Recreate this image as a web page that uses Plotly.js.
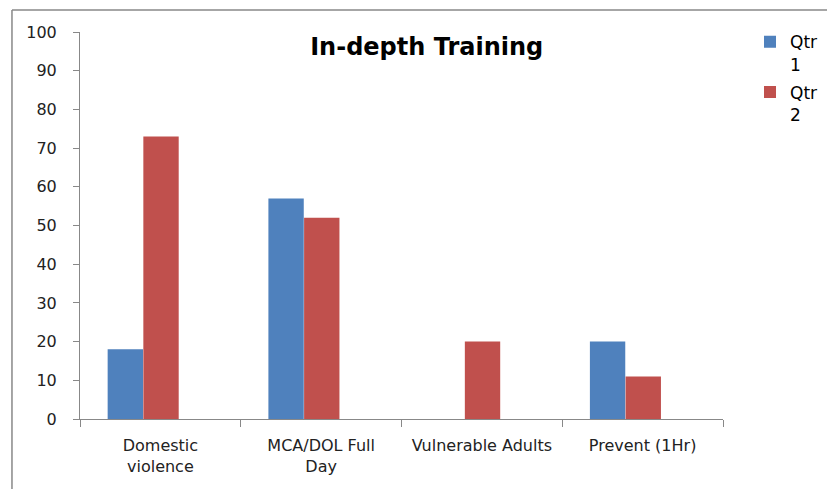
<!DOCTYPE html>
<html>
<head>
<meta charset="utf-8">
<script src="https://cdn.plot.ly/plotly-3.0.1.min.js"></script>
<style>html,body{margin:0;padding:0;background:#fff;}#chart{width:827px;height:489px;}</style>
</head>
<body>
<div id="chart"></div>
<script>
var categories = ["Domestic<br>violence", "MCA/DOL Full<br>Day", "Vulnerable Adults", "Prevent (1Hr)"];
var seriesNames = ["Qtr<br>1", "Qtr<br>2"];
var qtr1 = [18, 57, 0, 20];
var qtr2 = [73, 52, 20, 11];
var yTicks = [0, 10, 20, 30, 40, 50, 60, 70, 80, 90, 100];

var font = "DejaVu Sans, sans-serif";
var traces = [
  {type: "bar", name: seriesNames[0], legendgroup: "a", x: categories, y: qtr1, width: 0.22, offset: -0.328, marker: {color: "#4F81BD", line: {width: 0}}},
  {type: "bar", name: seriesNames[1], legendgroup: "b", x: categories, y: qtr2, width: 0.22, offset: -0.106, marker: {color: "#C0504D", line: {width: 0}}}
];
var layout = {
  width: 827, height: 489,
  margin: {l: 80, r: 104, t: 32, b: 70, autoexpand: false},
  paper_bgcolor: "#fff", plot_bgcolor: "#fff",
  title: {text: "<b>In-depth Training</b>", font: {family: font, size: 24, color: "#000"}, x: 0.516, xanchor: "center", y: 0.905, yanchor: "middle"},
  barmode: "group",
  showlegend: true,
  legend: {x: 1.042, y: 1.02, xanchor: "left", yanchor: "top", valign: "top", font: {family: font, size: 17, color: "#000"}, itemwidth: 30, tracegroupgap: 3, bgcolor: "rgba(0,0,0,0)"},
  xaxis: {type: "category", range: [-0.5, 3.5], showline: true, linecolor: "#888", linewidth: 1, ticks: "outside", tickson: "boundaries", ticklen: 7, tickcolor: "#888", showgrid: false, zeroline: false, tickfont: {family: font, size: 16, color: "#222"}, ticklabelstandoff: 12, fixedrange: true},
  yaxis: {range: [0, 100], tickvals: yTicks, showline: true, linecolor: "#888", linewidth: 1, ticks: "outside", ticklen: 6, tickcolor: "#888", showgrid: false, zeroline: false, tickfont: {family: font, size: 16, color: "#222"}, ticklabelstandoff: 13, fixedrange: true},
  shapes: [
    {type: "line", xref: "paper", yref: "paper", x0: -0.1058, x1: 1.17, y0: 1.0568, y1: 1.0568, line: {color: "#888", width: 1.5}},
    {type: "line", xref: "paper", yref: "paper", x0: -0.1058, x1: -0.1058, y0: 1.0568, y1: -0.19, line: {color: "#888", width: 1.5}}
  ]
};
Plotly.newPlot("chart", traces, layout, {displayModeBar: false, staticPlot: true});
</script>
</body>
</html>
